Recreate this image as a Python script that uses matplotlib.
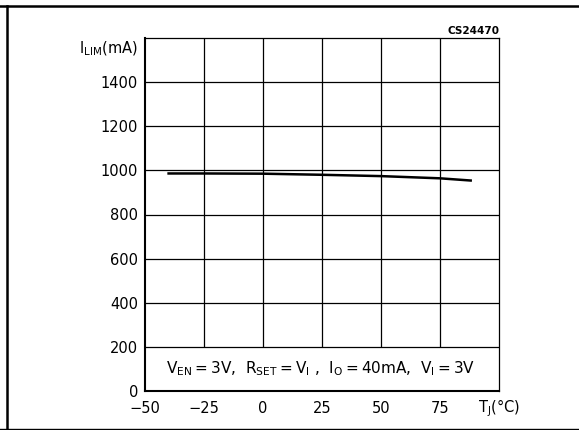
import matplotlib
matplotlib.use("Agg")
import matplotlib.pyplot as plt
from matplotlib.lines import Line2D
import matplotlib.transforms as mtransforms

plt.rcParams['font.family'] = ['DejaVu Sans']
plt.rcParams['mathtext.default'] = 'regular'

# Data
temp_c = [-40, -25, 0, 25, 50, 75, 88]
ilim_ma = [986, 986, 985, 980, 974, 964, 954]

x_ticks = [-50, -25, 0, 25, 50, 75, 100]
x_labels = ['\u221250', '\u221225', '0', '25', '50', '75', 'T$_{J}$(°C)']
y_ticks = [0, 200, 400, 600, 800, 1000, 1200, 1400, 1600]
y_labels = ['0', '200', '400', '600', '800', '1000', '1200', '1400', 'I$_{LIM}$(mA)']

W, H = 579, 430
fig = plt.figure(figsize=(W / 100, H / 100), dpi=100)
ax = fig.add_axes([145 / W, 1 - 391 / H, (499 - 145) / W, (391 - 38) / H])

ax.set_xlim(-50, 100)
ax.set_ylim(0, 1600)

# grid
for yv in y_ticks[1:-1]:
    ax.axhline(yv, color='black', lw=0.9, zorder=1)
for xv in x_ticks[1:-1]:
    ax.vlines(xv, 200, 1600, color='black', lw=0.9, zorder=1)

ax.plot(temp_c, ilim_ma, color='black', lw=1.8, zorder=3)

ax.set_xticks(x_ticks)
ax.set_xticklabels(x_labels)
ax.set_yticks(y_ticks)
ax.set_yticklabels(y_labels)
ax.tick_params(axis='x', length=0, labelsize=10.5, pad=15.5)
ax.tick_params(axis='y', length=0, labelsize=10.5, pad=5)
for lbl in ax.get_xticklabels():
    lbl.set_verticalalignment('baseline')
ylbls = ax.get_yticklabels()
ylbls[-1].set_verticalalignment('top')
ylbls[-1].set_transform(ylbls[-1].get_transform() +
                        mtransforms.ScaledTranslation(0, -2 / 100, fig.dpi_scale_trans))

for side in ['top', 'right']:
    ax.spines[side].set_linewidth(0.9)
for side in ['left', 'bottom']:
    ax.spines[side].set_linewidth(1.5)

t = '\u2009'
ax.text(0.058, 100,
        f'V$_{{EN}}${t}={t}3V,  R$_{{SET}}${t}={t}V$_{{I}}$ ,  I$_{{O}}${t}={t}40mA,  V$_{{I}}${t}={t}3V',
        transform=ax.get_yaxis_transform(), fontsize=11, va='center', ha='left')

fig.text(499 / W, 1 - 31 / H, 'CS24470', fontsize=7.5, fontweight='bold',
         ha='right', va='center')

# outer frame
fig.add_artist(Line2D([0, 1], [1 - 5.5 / H, 1 - 5.5 / H], color='black', lw=1.8,
                      transform=fig.transFigure))
fig.add_artist(Line2D([7.5 / W, 7.5 / W], [1 - 5.5 / H, 1 - 428.5 / H], color='black', lw=1.8,
                      transform=fig.transFigure))
fig.add_artist(Line2D([0, 1], [1 - 428.5 / H, 1 - 428.5 / H], color='black', lw=1.0,
                      transform=fig.transFigure))

fig.savefig('out.png', dpi=100)
